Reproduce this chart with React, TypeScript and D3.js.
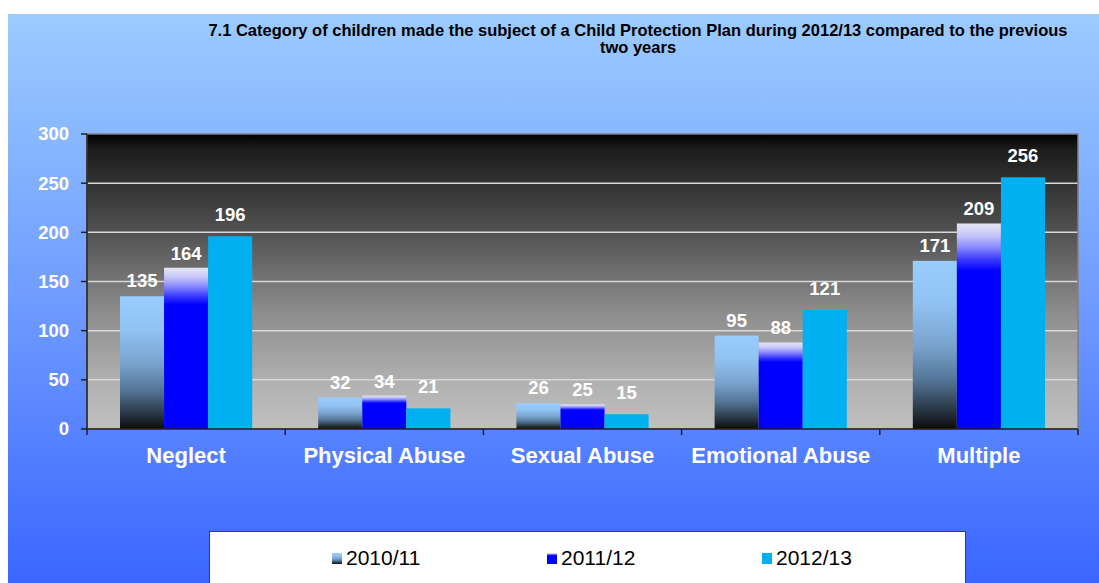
import React from "react";
import * as d3 from "d3";

const categories = ["Neglect", "Physical Abuse", "Sexual Abuse", "Emotional Abuse", "Multiple"];
const seriesNames = ["2010/11", "2011/12", "2012/13"];
const values2010 = [135, 32, 26, 95, 171];
const values2011 = [164, 34, 25, 88, 209];
const values2012 = [196, 21, 15, 121, 256];
const yTicks = [0, 50, 100, 150, 200, 250, 300];
const titleLines = [
  "7.1 Category of children made the subject of a Child Protection Plan during 2012/13 compared to the previous",
  "two years",
];

const W = 1099;
const H = 583;
const plot = { left: 87, right: 1078, top: 134, bottom: 429 };
const fillIds = ["g2010", "g2011", "c2012"];
const labelGap = [9, 8, 15];
const FONT = "'Liberation Sans', Arial, sans-serif";

export default function App() {
  const allSeries = [values2010, values2011, values2012];
  const x = d3.scaleBand<string>().domain(categories).range([plot.left, plot.right]).padding(0);
  const bw = x.bandwidth();
  const xs = d3
    .scaleBand<string>()
    .domain(seriesNames)
    .range([bw * 0.1665, bw * 0.8335])
    .padding(0);
  const y = d3.scaleLinear().domain([0, 300]).range([plot.bottom, plot.top]);
  const boundaries = d3.range(categories.length + 1).map((i) => plot.left + i * bw);

  return (
    <svg
      width={W}
      height={H}
      style={{ position: "absolute", left: 0, top: 0, display: "block" }}
      fontFamily={FONT}
    >
      <defs>
        <linearGradient id="bgGrad" x1="0" y1="0" x2="0" y2="1">
          <stop offset="0" stopColor="#9ccbff" />
          <stop offset="0.5" stopColor="#6f9cff" />
          <stop offset="1" stopColor="#3a66ff" />
        </linearGradient>
        <linearGradient id="plotGrad" x1="0" y1="0" x2="0" y2="1">
          <stop offset="0" stopColor="#000000" />
          <stop offset="0.05" stopColor="#1c1c1c" />
          <stop offset="0.35" stopColor="#555555" />
          <stop offset="0.6" stopColor="#8c8c8c" />
          <stop offset="0.85" stopColor="#b2b2b2" />
          <stop offset="1" stopColor="#c0c0c0" />
        </linearGradient>
        <linearGradient id="g2010" x1="0" y1="0" x2="0" y2="1">
          <stop offset="0" stopColor="#9acdff" />
          <stop offset="0.25" stopColor="#90c2f2" />
          <stop offset="0.5" stopColor="#7aa4cf" />
          <stop offset="0.7" stopColor="#56789a" />
          <stop offset="0.86" stopColor="#2f4050" />
          <stop offset="1" stopColor="#0b0b0d" />
        </linearGradient>
        <linearGradient id="g2011" x1="0" y1="0" x2="0" y2="1">
          <stop offset="0" stopColor="#e6e6f4" />
          <stop offset="0.06" stopColor="#c4c4f8" />
          <stop offset="0.12" stopColor="#8484ff" />
          <stop offset="0.18" stopColor="#3434ff" />
          <stop offset="0.23" stopColor="#0000ff" />
          <stop offset="1" stopColor="#0000ff" />
        </linearGradient>
        <linearGradient id="c2012" x1="0" y1="0" x2="0" y2="1">
          <stop offset="0" stopColor="#00b0f0" />
          <stop offset="1" stopColor="#00b0f0" />
        </linearGradient>
      </defs>

      <rect x={0} y={0} width={W} height={H} fill="#ffffff" />
      <rect x={8} y={14} width={W - 8} height={H - 14} fill="url(#bgGrad)" />

      {titleLines.map((t, i) => (
        <text
          key={i}
          x={638}
          y={36 + i * 17}
          textAnchor="middle"
          fontSize={16.5}
          fontWeight="bold"
          fill="#000"
        >
          {t}
        </text>
      ))}

      <rect
        x={plot.left}
        y={plot.top}
        width={plot.right - plot.left}
        height={plot.bottom - plot.top}
        fill="url(#plotGrad)"
      />
      {yTicks.slice(1, -1).map((v) => (
        <line
          key={v}
          x1={plot.left}
          x2={plot.right}
          y1={y(v)}
          y2={y(v)}
          stroke="#d8d8d8"
          strokeWidth={1.5}
        />
      ))}
      <rect
        x={plot.left}
        y={plot.top}
        width={plot.right - plot.left}
        height={plot.bottom - plot.top}
        fill="none"
        stroke="#808080"
        strokeWidth={1.5}
      />

      {allSeries.map((vals, si) =>
        vals.map((v, ci) => {
          const bx = (x(categories[ci]) as number) + (xs(seriesNames[si]) as number);
          return (
            <rect
              key={`${si}-${ci}`}
              x={bx}
              y={y(v)}
              width={xs.bandwidth()}
              height={y(0) - y(v)}
              fill={`url(#${fillIds[si]})`}
            />
          );
        })
      )}

      {allSeries.map((vals, si) =>
        vals.map((v, ci) => {
          const bx = (x(categories[ci]) as number) + (xs(seriesNames[si]) as number);
          return (
            <text
              key={`l${si}-${ci}`}
              x={bx + xs.bandwidth() / 2}
              y={y(v) - labelGap[si]}
              textAnchor="middle"
              fontSize={18.5}
              fontWeight="bold"
              fill="#ffffff"
            >
              {v}
            </text>
          );
        })
      )}

      {/* axes */}
      <line x1={plot.left} x2={plot.left} y1={plot.top} y2={plot.bottom} stroke="#222" strokeWidth={1.5} />
      <line x1={plot.left} x2={plot.right} y1={plot.bottom} y2={plot.bottom} stroke="#222" strokeWidth={1.5} />
      {yTicks.map((v) => (
        <g key={`yt${v}`}>
          <line x1={plot.left - 6} x2={plot.left} y1={y(v)} y2={y(v)} stroke="#222" strokeWidth={1.5} />
          <text
            x={69}
            y={y(v)}
            dy="0.35em"
            textAnchor="end"
            fontSize={18.5}
            fontWeight="bold"
            fill="#ffffff"
          >
            {v}
          </text>
        </g>
      ))}
      {boundaries.map((bx, i) => (
        <line key={`xt${i}`} x1={bx} x2={bx} y1={plot.bottom} y2={plot.bottom + 6} stroke="#222" strokeWidth={1.5} />
      ))}
      {categories.map((c) => (
        <text
          key={c}
          x={(x(c) as number) + bw / 2}
          y={463}
          textAnchor="middle"
          fontSize={22}
          fontWeight="bold"
          fill="#ffffff"
        >
          {c}
        </text>
      ))}

      {/* legend */}
      <rect x={209.5} y={531.5} width={756} height={60} fill="#ffffff" stroke="#404040" strokeWidth={1} />
      {seriesNames.map((s, i) => {
        const lx = [332, 547, 762][i];
        return (
          <g key={s}>
            <rect x={lx} y={553} width={10} height={11} fill={`url(#${fillIds[i]})`} />
            <text x={lx + 14} y={565} fontSize={21} fill="#000">
              {s}
            </text>
          </g>
        );
      })}
    </svg>
  );
}
